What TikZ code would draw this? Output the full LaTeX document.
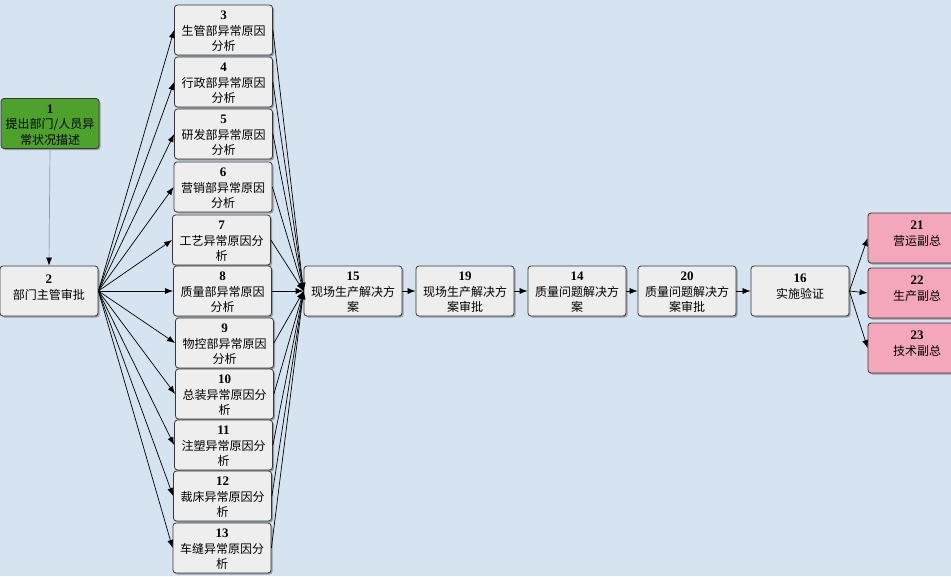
\documentclass[tikz,border=0pt]{standalone}
\usepackage{fontspec}
\newfontfamily\cjk{Noto Sans CJK SC}
\newfontfamily\numfont{Liberation Serif}
\usetikzlibrary{arrows.meta,shadows}
\definecolor{bgblue}{RGB}{214,227,240}
\definecolor{boxgray}{RGB}{238,238,238}
\definecolor{boxline}{RGB}{55,55,55}
\definecolor{startgreen}{RGB}{78,161,43}
\definecolor{vppink}{RGB}{244,167,186}
\newcommand{\steptext}[3][4pt]{\parbox[c][46pt][t]{96pt}{\centering\fontsize{12}{15.5}\selectfont\vspace*{#1}{\numfont\bfseries\fontsize{13}{15.5}\selectfont #2}\\{\cjk #3}}}
\tikzset{
  stepbox/.style={draw=boxline, line width=0.8pt, fill=boxgray, rounded corners=3pt,
    minimum width=98pt, minimum height=50pt, inner sep=0pt,
    drop shadow={shadow xshift=1.5pt, shadow yshift=-1.5pt, opacity=0.3, fill=black}},
  flow/.style={draw=black, line width=0.7pt, -{Latex[length=8pt,width=6pt]}},
}
\begin{document}
\begin{tikzpicture}[x=1pt,y=-1pt]

   \fill[bgblue] (0,0) rectangle (951,576);
   \useasboundingbox (0,0) rectangle (951,576);

      \node[stepbox, fill=startgreen] (n1) at (50, 123.5){\steptext{1}{提出部门/人员异\\常状况描述}};
      \node[stepbox] (n2) at (49, 291){\steptext[7pt]{2}{部门主管审批}};

      \node[stepbox] (n3) at (223.5, 30){\steptext{3}{生管部异常原因\\分析}};
      \node[stepbox] (n4) at (223.5, 82){\steptext{4}{行政部异常原因\\分析}};
      \node[stepbox] (n5) at (223.5, 134){\steptext{5}{研发部异常原因\\分析}};
      \node[stepbox] (n6) at (223, 187){\steptext{6}{营销部异常原因\\分析}};
      \node[stepbox] (n7) at (221.5, 240){\steptext{7}{工艺异常原因分\\析}};
      \node[stepbox] (n8) at (222.5, 291){\steptext{8}{质量部异常原因\\分析}};
      \node[stepbox] (n9) at (224.5, 343){\steptext{9}{物控部异常原因\\分析}};
      \node[stepbox] (n10) at (224.5, 394){\steptext{10}{总装异常原因分\\析}};
      \node[stepbox] (n11) at (223.5, 445){\steptext{11}{注塑异常原因分\\析}};
      \node[stepbox] (n12) at (222.5, 496){\steptext{12}{裁床异常原因分\\析}};
      \node[stepbox] (n13) at (222, 548){\steptext{13}{车缝异常原因分\\析}};

      \node[stepbox] (n15) at (353, 291){\steptext{15}{现场生产解决方\\案}};
      \node[stepbox] (n19) at (465, 291){\steptext{19}{现场生产解决方\\案审批}};
      \node[stepbox] (n14) at (577, 291){\steptext{14}{质量问题解决方\\案}};
      \node[stepbox] (n20) at (687, 291){\steptext{20}{质量问题解决方\\案审批}};
      \node[stepbox] (n16) at (800, 291){\steptext[6pt]{16}{实施验证}};

      \node[stepbox, fill=vppink] (n21) at (917, 238){\steptext[6pt]{21}{营运副总}};
      \node[stepbox, fill=vppink] (n22) at (917, 293){\steptext[6pt]{22}{生产副总}};
      \node[stepbox, fill=vppink] (n23) at (917, 348){\steptext[6pt]{23}{技术副总}};

   \draw[flow, draw=black!40, -{Latex[length=8pt,width=6pt,color=black]}] (n1.south) -- (n2.north);

   \draw[flow] (n2.east) -- (n3.west);   \draw[flow] (n3.east) -- (n15.west);
   \draw[flow] (n2.east) -- (n4.west);   \draw[flow] (n4.east) -- (n15.west);
   \draw[flow] (n2.east) -- (n5.west);   \draw[flow] (n5.east) -- (n15.west);
   \draw[flow] (n2.east) -- (n6.west);   \draw[flow] (n6.east) -- (n15.west);
   \draw[flow] (n2.east) -- (n7.west);   \draw[flow] (n7.east) -- (n15.west);
   \draw[flow] (n2.east) -- (n8.west);   \draw[flow] (n8.east) -- (n15.west);
   \draw[flow] (n2.east) -- (n9.west);   \draw[flow] (n9.east) -- (n15.west);
   \draw[flow] (n2.east) -- (n10.west);  \draw[flow] (n10.east) -- (n15.west);
   \draw[flow] (n2.east) -- (n11.west);  \draw[flow] (n11.east) -- (n15.west);
   \draw[flow] (n2.east) -- (n12.west);  \draw[flow] (n12.east) -- (n15.west);
   \draw[flow] (n2.east) -- (n13.west);  \draw[flow] (n13.east) -- (n15.west);

   \draw[flow] (n15) -- (n19);
   \draw[flow] (n19) -- (n14);
   \draw[flow] (n14) -- (n20);
   \draw[flow] (n20) -- (n16);

   \draw[flow] (n16.east) -- (n21.west);
   \draw[flow] (n16.east) -- (n22.west);
   \draw[flow] (n16.east) -- (n23.west);

\end{tikzpicture}
\end{document}
